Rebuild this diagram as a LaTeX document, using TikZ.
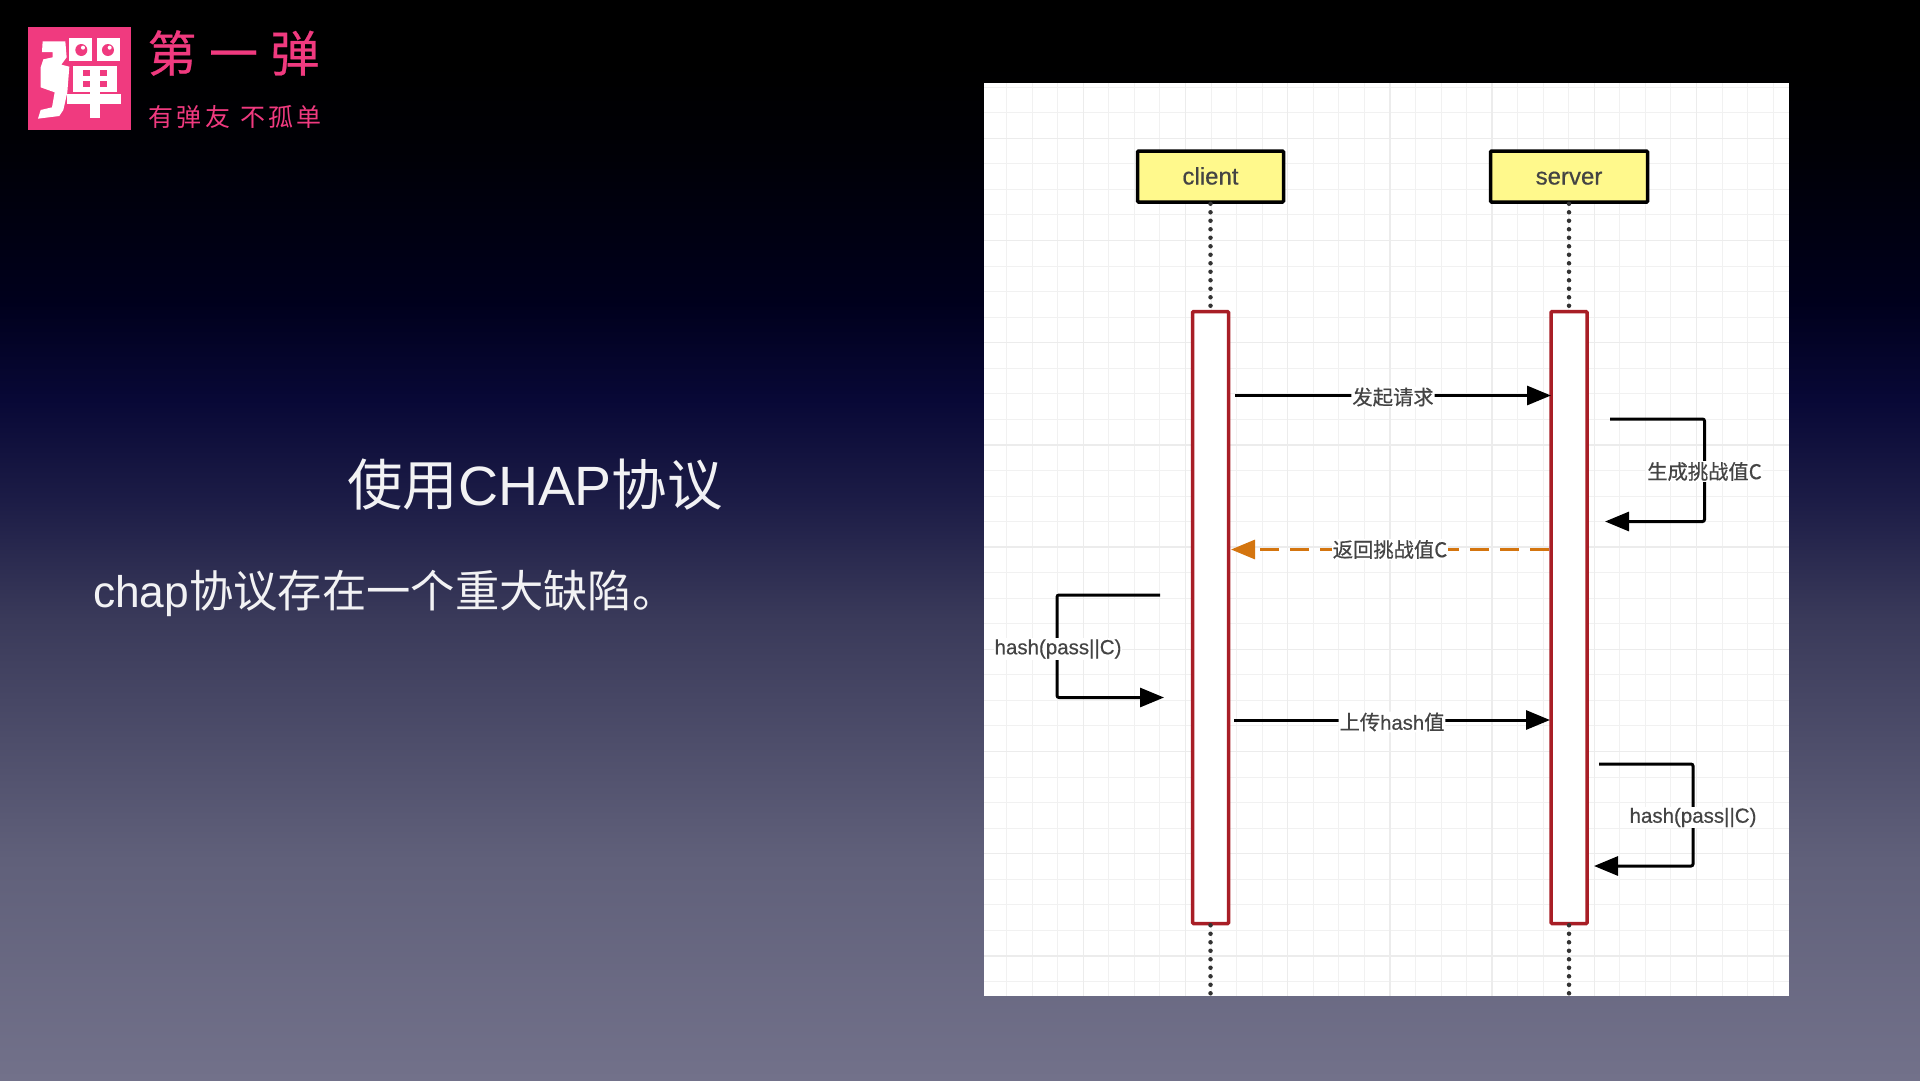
\documentclass[tikz,border=0pt]{standalone}
\usepackage{fontspec}
\setmainfont{Liberation Sans}
\newfontfamily\cjk{Noto Sans CJK SC}
\newfontfamily\cjkb[FakeBold=0.5]{Noto Sans CJK SC}
\newfontfamily\latb[FakeBold=0.5]{Liberation Sans}
\usetikzlibrary{arrows.meta}
\definecolor{pinkc}{HTML}{F03A7F}
\definecolor{txtc}{HTML}{F2F2F4}
\definecolor{lblc}{HTML}{444444}
\definecolor{gridminor}{HTML}{F1F1F1}
\definecolor{gridmajor}{HTML}{ECECEC}
\definecolor{barred}{HTML}{A81E26}
\definecolor{orangec}{HTML}{D4750F}
\definecolor{bga}{HTML}{72718A}
\definecolor{bgb}{HTML}{60607A}
\definecolor{bgc}{HTML}{3A3A5A}
\definecolor{bgd}{HTML}{1C1C46}
\definecolor{bge}{HTML}{080836}
\definecolor{bgf}{HTML}{00001C}
\definecolor{bgh}{HTML}{000006}
\definecolor{bgg}{HTML}{000000}
\pgfdeclareverticalshading{bgshade}{100bp}{
  color(0bp)=(bga);
  color(25bp)=(bga);
  color(35.2bp)=(bgb);
  color(46.3bp)=(bgc);
  color(51.85bp)=(bgd);
  color(56.5bp)=(bge);
  color(61.1bp)=(bgf);
  color(68bp)=(bgh);
  color(72bp)=(bgg);
  color(100bp)=(bgg)}
\tikzset{
  actor/.style={draw=black,line width=3.5pt,fill=yellow!45!white,rounded corners=1pt,inner sep=0pt,
    minimum height=51pt,text=lblc,text height=16pt,text depth=0pt,font=\fontsize{24}{28}\selectfont\latb},
  bar/.style={draw=barred,line width=3.5pt,fill=white,rounded corners=1pt,inner sep=0pt,minimum width=36pt,minimum height=612pt},
  lifeline/.style={line width=4.5pt,line cap=round,dash pattern=on 0pt off 8.5pt,draw=black!80},
  msg/.style={line width=3pt,draw=black,rounded corners=2pt,-{Triangle[length=24pt,width=19pt]}},
  reply/.style={line width=3pt,draw=orangec,dash pattern=on 19pt off 11pt,-{Triangle[length=24pt,width=19pt,fill=orangec]}},
  lbl/.style={fill=white,inner xsep=1pt,inner ysep=1pt,text=lblc,font=\fontsize{20.3}{24}\selectfont\cjkb},
  lblh/.style={fill=white,inner xsep=1pt,inner ysep=1pt,text=lblc,font=\fontsize{20.5}{24}\selectfont\latb}
}
\begin{document}
\begin{tikzpicture}[x=1pt,y=-1pt]
\useasboundingbox (0,0) rectangle (1920,1080);
\shade[shading=bgshade] (0,0) rectangle (1920,1080);
% logo
\fill[pinkc] (28,27) rectangle (131,130);
\begin{scope}[shift={(24,24)},x=0.3333pt,y=-0.3333pt]
\fill[white] (56,52)--(124,52)--(128,100)--(112,122)--(136,128)--(130,205)--(118,258)--(106,276)--(42,284)--(50,258)--(84,250)--(92,205)--(50,190)--(50,130)--(58,106)--(86,100)--(86,84)--(54,84)--cycle;
\fill[white] (135,42) rectangle (205,112);
\fill[white] (218,42) rectangle (288,112);
\fill[pinkc] (172,78) circle[radius=6pt];
\fill[pinkc] (252,78) circle[radius=6pt];
\fill[white] (177,71) circle[radius=2pt];
\fill[white] (257,71) circle[radius=2pt];
\fill[white] (148,125) rectangle (278,205);
\fill[white] (130,210) rectangle (290,240);
\fill[white] (198,205) rectangle (228,282);
\fill[pinkc] (177,137) rectangle (198,157);
\fill[pinkc] (228,137) rectangle (249,157);
\fill[pinkc] (177,170) rectangle (198,190);
\fill[pinkc] (228,170) rectangle (249,190);
\end{scope}
\node[text=pinkc,inner sep=0pt,font=\fontsize{49}{52}\selectfont\cjkb] (brand) at (233.5,53) {第\hspace{12.5pt}一\hspace{12.5pt}弹};
\node[text=pinkc,inner sep=0pt,font=\fontsize{25}{30}\selectfont\cjk] (slogan) at (235,117) {有\hspace{3.3pt}弹\hspace{3.3pt}友\hspace{10pt}不\hspace{3.3pt}孤\hspace{3.3pt}单};
% slide text
\node[text=txtc,inner sep=0pt,font=\fontsize{55.4}{60}\selectfont] (title) at (535,484.5) {{\cjk 使用}CHAP{\cjk 协议}};
\node[text=txtc,inner sep=0pt,anchor=west,font=\fontsize{44.3}{50}\selectfont] (body) at (93,593) {chap{\cjk 协议存在一个重大缺陷。}};
% panel
\fill[white] (984,83) rectangle (1789,996);
\foreach \k in {-3,...,27} {\pgfmathsetmacro\gx{1083.3+\k*25.55}\draw[gridminor,line width=1pt] (\gx,83) -- (\gx,996);}
\foreach \k in {-2,...,33} {\pgfmathsetmacro\gy{138.3+\k*25.55}\draw[gridminor,line width=1pt] (984,\gy) -- (1789,\gy);}
\foreach \k in {0,4,...,24} {\pgfmathsetmacro\gx{1083.3+\k*25.55}\draw[gridmajor,line width=1.4pt] (\gx,83) -- (\gx,996);}
\foreach \k in {0,4,...,32} {\pgfmathsetmacro\gy{138.3+\k*25.55}\draw[gridmajor,line width=1.4pt] (984,\gy) -- (1789,\gy);}
% actors
\node[actor,minimum width=146pt] (client) at (1210.5,176.5) {client};
\node[actor,minimum width=157pt] (server) at (1569,176.5) {server};
\node[bar] (cbar) at (1210.5,617.5) {};
\node[bar] (sbar) at (1569,617.5) {};
\coordinate (cend) at (1210.5,996);
\coordinate (send) at (1569,996);
\draw[lifeline] (client.south) -- (cbar.north);
\draw[lifeline] (server.south) -- (sbar.north);
\draw[lifeline] (cbar.south) -- (cend);
\draw[lifeline] (sbar.south) -- (send);
% messages
\coordinate (m1a) at (1235,395.5); \coordinate (m1b) at (1551,395.5);
\draw[msg] (m1a) -- node[lbl,yshift=-1.5pt] (l1) {发起请求} (m1b);
\coordinate (s1a) at (1610,419); \coordinate (s1b) at (1704.5,419); \coordinate (s1c) at (1704.5,521.5); \coordinate (s1d) at (1605,521.5);
\draw[msg] (s1a) -- (s1b) -- (s1c) -- (s1d);
\node[lbl] (l2) at (1704.5,471.5) {生成挑战值C};
\coordinate (m2a) at (1549,549.5); \coordinate (m2b) at (1231,549.5);
\draw[reply] (m2a) -- node[lbl] (l3) {返回挑战值C} (m2b);
\coordinate (s2a) at (1160,595); \coordinate (s2b) at (1057,595); \coordinate (s2c) at (1057,697.5); \coordinate (s2d) at (1164,697.5);
\draw[msg] (s2a) -- (s2b) -- (s2c) -- (s2d);
\node[lblh] (l4) at (1058,649) {hash(pass||C)};
\coordinate (m3a) at (1234,720); \coordinate (m3b) at (1550,720);
\draw[msg] (m3a) -- node[lbl,yshift=-2pt] (l5) {上传{\latb hash}值} (m3b);
\coordinate (s3a) at (1599,764); \coordinate (s3b) at (1693,764); \coordinate (s3c) at (1693,866); \coordinate (s3d) at (1594,866);
\draw[msg] (s3a) -- (s3b) -- (s3c) -- (s3d);
\node[lblh] (l6) at (1693,817.5) {hash(pass||C)};
\end{tikzpicture}
\end{document}
